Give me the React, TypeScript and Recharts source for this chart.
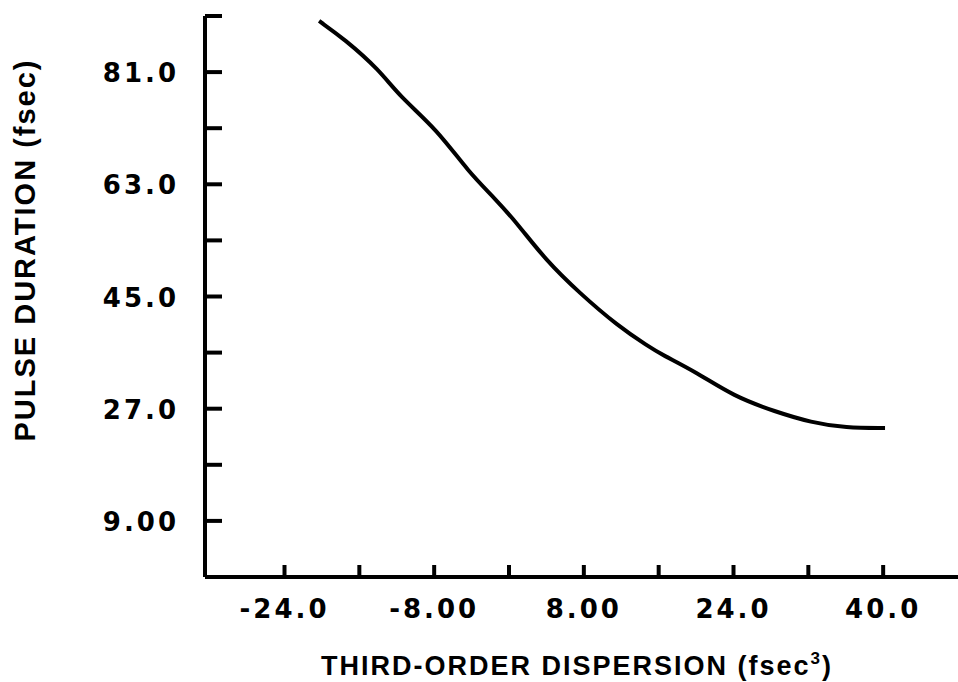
import React from "react";
import { LineChart, Line, XAxis, YAxis } from "recharts";

const dispersion = [-20.3, -17.6, -13.9, -11.7, -7.7, -4.3, -1.4, 1.1, 3.9, 7.5, 11.7, 14.9, 16.3, 20.1, 24.0, 28.5, 32.3, 36.0, 40.2];
const duration = [89.2, 86.3, 81.4, 77.1, 71.8, 64.9, 60.6, 56.3, 50.9, 45.6, 40.2, 37.0, 35.7, 32.8, 29.0, 26.5, 24.8, 23.9, 23.9];

const xTicks = [-24, -16, -8, 0, 8, 16, 24, 32, 40];
const xTickLabels: Record<number, string> = { [-24]: "-24.0", [-8]: "-8.00", 8: "8.00", 24: "24.0", 40: "40.0" };
const yTicks = [9, 18, 27, 36, 45, 54, 63, 72, 81, 90];
const yTickLabels: Record<number, string> = { 9: "9.00", 27: "27.0", 45: "45.0", 63: "63.0", 81: "81.0" };

const data = dispersion.map((x, i) => ({ x, y: duration[i] }));

const tickFont = {
  fontFamily: "'DejaVu Sans', sans-serif",
  fontWeight: 700,
  fontSize: 26,
  letterSpacing: 3,
  fill: "#000",
};
const titleFont = {
  fontFamily: "'Liberation Sans', Arial, sans-serif",
  fontWeight: 700,
  fill: "#000",
};

const YTick = (props: any) => {
  const { x, y, payload } = props;
  const label = yTickLabels[payload.value];
  return (
    <g>
      <line x1={x} y1={y} x2={x + 17} y2={y} stroke="#000" strokeWidth={4} />
      {label && (
        <text x={x - 26} y={y} dy={10} textAnchor="end" {...tickFont}>
          {label}
        </text>
      )}
    </g>
  );
};

const XTick = (props: any) => {
  const { x, y, payload } = props;
  const label = xTickLabels[payload.value];
  return (
    <g>
      <line x1={x} y1={y} x2={x} y2={y - 12} stroke="#000" strokeWidth={4} />
      {label && (
        <text x={x} y={y} dy={41} textAnchor="middle" {...tickFont}>
          {label}
        </text>
      )}
    </g>
  );
};

const XTitle = (props: any) => {
  const vb = props.viewBox || { x: 205, y: 577 };
  return (
    <text x={vb.x + 372} y={vb.y + 98} textAnchor="middle" fontSize={27} letterSpacing={2} {...titleFont}>
      THIRD-ORDER DISPERSION (fsec
      <tspan dy={-11} fontSize={17}>3</tspan>
      <tspan dy={11}>)</tspan>
    </text>
  );
};

const YTitle = (props: any) => {
  const vb = props.viewBox || { x: 0, y: 16 };
  const cx = vb.x + 35;
  const cy = 250;
  return (
    <text x={cx} y={cy} textAnchor="middle" fontSize={29} letterSpacing={2} transform={`rotate(-90, ${cx}, ${cy})`} {...titleFont}>
      PULSE DURATION (fsec)
    </text>
  );
};

export default function App() {
  return (
    <div style={{ position: "absolute", left: 0, top: 0, width: 958, height: 682, background: "#fff" }}>
      <LineChart width={958} height={682} data={data} margin={{ top: 16, right: 0, bottom: 0, left: 0 }}>
        <XAxis
          type="number"
          dataKey="x"
          domain={[-32.5, 48]}
          ticks={xTicks}
          allowDataOverflow
          height={105}
          tickSize={0}
          tickMargin={0}
          tick={<XTick />}
          axisLine={{ stroke: "#000", strokeWidth: 4 }}
          label={<XTitle />}
        />
        <YAxis
          type="number"
          dataKey="y"
          domain={[0, 90]}
          ticks={yTicks}
          allowDataOverflow
          width={205}
          tickSize={0}
          tickMargin={0}
          tick={<YTick />}
          axisLine={{ stroke: "#000", strokeWidth: 4 }}
          label={<YTitle />}
        />
        <Line
          type="basis"
          dataKey="y"
          stroke="#000"
          strokeWidth={4}
          dot={false}
          isAnimationActive={false}
        />
      </LineChart>
    </div>
  );
}
